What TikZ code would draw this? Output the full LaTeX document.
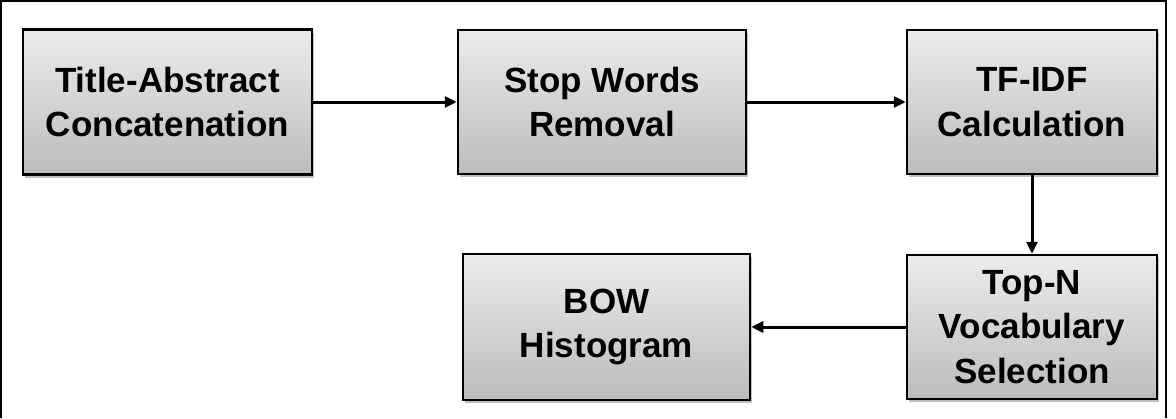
\documentclass[tikz,border=0pt]{standalone}
\usepackage{fontspec}
\setmainfont{Liberation Sans}
\usetikzlibrary{arrows.meta,shadows}
\definecolor{boxtop}{HTML}{ECECEC}
\definecolor{boxbot}{HTML}{BCBCBC}
\begin{document}
\begin{tikzpicture}[x=1pt,y=-1pt,
  stage/.style={draw=black, line width=2.5pt, top color=boxtop, bottom color=boxbot,
    align=center, inner sep=0pt, font=\fontsize{35}{44.5}\selectfont\bfseries,
    drop shadow={shadow xshift=2pt, shadow yshift=-3pt, opacity=0.25, fill=black}},
  flow/.style={line width=3pt, -{Triangle[length=12pt,width=11pt]}}]
  \useasboundingbox (0,0) rectangle (1176,418);
  % frame, open at the bottom
  \draw[line width=1.5pt] (1,418) -- (1,1) -- (1166,1) -- (1166,418);
  % processing stages
  \node[stage, minimum width=289pt, minimum height=145pt] (concat) at (167.5,102) {Title-Abstract\\Concatenation};
  \node[stage, minimum width=288pt, minimum height=144pt] (stop) at (602,102) {Stop Words\\Removal};
  \node[stage, minimum width=250pt, minimum height=144pt] (tfidf) at (1032,102) {TF-IDF\\Calculation};
  \node[stage, minimum width=250pt, minimum height=144pt] (topn) at (1032,327) {Top-N\\Vocabulary\\Selection};
  \node[stage, minimum width=287pt, minimum height=146pt] (bow) at (606.5,327) {BOW\\Histogram};
  % connectors
  \draw[flow] (concat) -- (stop);
  \draw[flow] (stop) -- (tfidf);
  \draw[flow] (tfidf) -- (topn);
  \draw[flow] (topn) -- (bow);
\end{tikzpicture}
\end{document}
